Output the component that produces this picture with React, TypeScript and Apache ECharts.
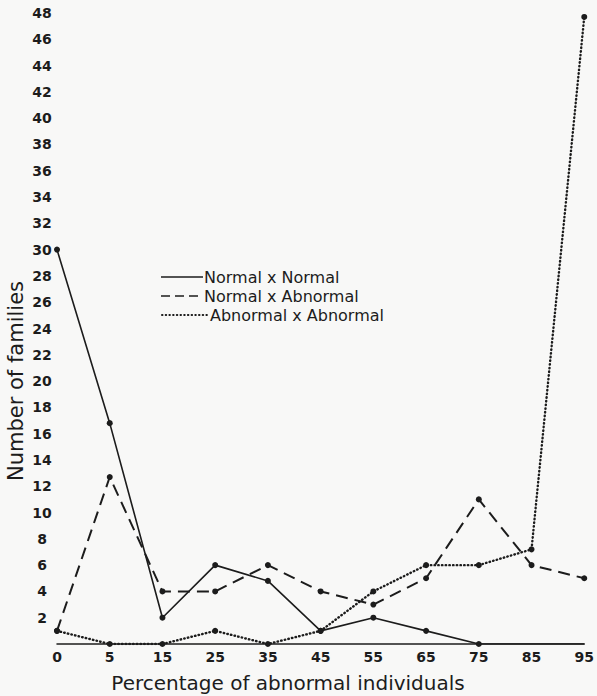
import React, { useEffect, useRef } from "react";
import * as echarts from "echarts";

const categories = ["0", "5", "15", "25", "35", "45", "55", "65", "75", "85", "95"];
const normalXNormal = [30, 16.8, 2, 6, 4.8, 1, 2, 1, 0, 0, 0];
const normalXAbnormal = [1, 12.7, 4, 4, 6, 4, 3, 5, 11, 6, 5];
const abnormalXAbnormal = [1, 0, 0, 1, 0, 1, 4, 6, 6, 7.2, 47.7];
const seriesNames = ["Normal x Normal", "Normal x Abnormal", "Abnormal x Abnormal"];
const yMin = 0;
const yMax = 48;
const yStep = 2;
const xTitle = "Percentage of abnormal individuals";
const yTitle = "Number of families";

const INK = "#1c1c1c";
const FONT = "DejaVu Sans";

export default function App() {
  const ref = useRef<HTMLDivElement>(null);
  useEffect(() => {
    if (!ref.current) return;
    const chart = echarts.init(ref.current, null, { renderer: "svg" });
    const sym = { symbol: "circle", symbolSize: 6, itemStyle: { color: INK } };
    const solidData = normalXNormal.map((v, i) =>
      i > 8 ? { value: v, symbol: "none" } : v
    );
    const legendFont = `16px "${FONT}"`;
    chart.setOption({
      animation: false,
      backgroundColor: "#f8f8f7",
      grid: { left: 57, right: 7, top: 13, bottom: 52 },
      xAxis: {
        type: "category",
        data: categories,
        boundaryGap: false,
        axisLine: { show: true, lineStyle: { color: INK, width: 1.5 } },
        axisTick: { show: false },
        splitLine: { show: false },
        axisLabel: {
          color: INK,
          fontFamily: FONT,
          fontSize: 14,
          fontWeight: "bold",
          margin: 6,
        },
      },
      yAxis: {
        type: "value",
        min: yMin,
        max: yMax,
        interval: yStep,
        axisLine: { show: false },
        axisTick: { show: false },
        splitLine: { show: false },
        axisLabel: {
          color: INK,
          fontFamily: FONT,
          fontSize: 14,
          fontWeight: "bold",
          align: "center",
          margin: 15,
          formatter: (v: number) => (v === 0 ? "" : String(v)),
        },
      },
      series: [
        {
          name: seriesNames[0],
          type: "line",
          data: solidData,
          ...sym,
          lineStyle: { color: INK, width: 1.6, type: "solid" },
          z: 3,
        },
        {
          name: seriesNames[1],
          type: "line",
          data: normalXAbnormal,
          ...sym,
          lineStyle: { color: INK, width: 2, type: [12, 7] },
          z: 4,
        },
        {
          name: seriesNames[2],
          type: "line",
          data: abnormalXAbnormal,
          ...sym,
          lineStyle: { color: INK, width: 2.4, type: [0.5, 3.2], cap: "round" },
          z: 5,
        },
      ],
      graphic: [
        {
          type: "line",
          shape: { x1: 161, y1: 277, x2: 203, y2: 277 },
          style: { stroke: INK, lineWidth: 1.6 },
        },
        {
          type: "text",
          x: 204,
          y: 277,
          style: {
            text: seriesNames[0],
            fill: INK,
            font: legendFont,
            textVerticalAlign: "middle",
          },
        },
        {
          type: "line",
          shape: { x1: 161, y1: 296, x2: 203, y2: 296 },
          style: { stroke: INK, lineWidth: 1.6, lineDash: [9, 5] },
        },
        {
          type: "text",
          x: 204,
          y: 296,
          style: {
            text: seriesNames[1],
            fill: INK,
            font: legendFont,
            textVerticalAlign: "middle",
          },
        },
        {
          type: "line",
          shape: { x1: 162, y1: 315, x2: 208, y2: 315 },
          style: { stroke: INK, lineWidth: 2, lineDash: [0.5, 3.2], lineCap: "round" },
        },
        {
          type: "text",
          x: 210,
          y: 315,
          style: {
            text: seriesNames[2],
            fill: INK,
            font: legendFont,
            textVerticalAlign: "middle",
          },
        },
        {
          type: "text",
          x: 288,
          y: 683,
          style: {
            text: xTitle,
            fill: INK,
            font: `20px "${FONT}"`,
            textAlign: "center",
            textVerticalAlign: "middle",
          },
        },
        {
          type: "text",
          x: 16,
          y: 381,
          rotation: Math.PI / 2,
          style: {
            text: yTitle,
            fill: INK,
            font: `21px "${FONT}"`,
            textAlign: "center",
            textVerticalAlign: "middle",
          },
        },
      ],
    });
    return () => chart.dispose();
  }, []);
  return (
    <div
      ref={ref}
      style={{ position: "absolute", left: 0, top: 0, width: 597, height: 696 }}
    />
  );
}
